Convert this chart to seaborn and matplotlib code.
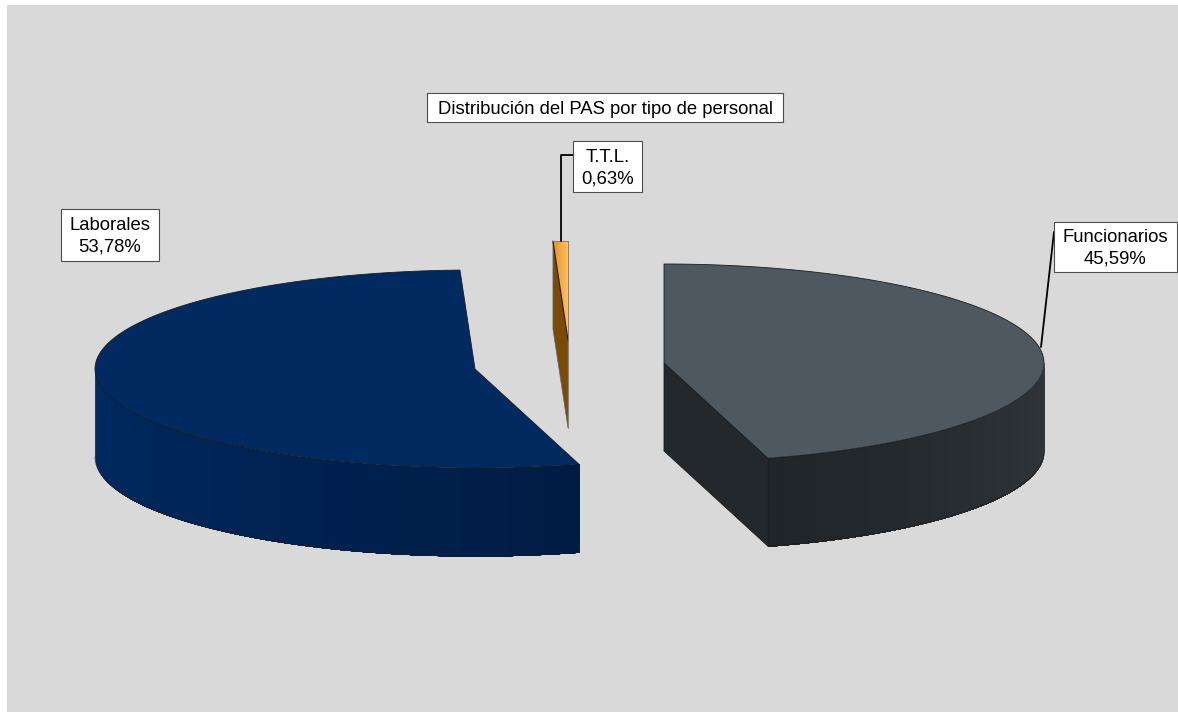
import numpy as np
import pandas as pd
import matplotlib
matplotlib.use('Agg')
import matplotlib.pyplot as plt
import seaborn as sns

sns.set_theme(style='white')
plt.rcParams['font.family'] = ['Liberation Sans', 'DejaVu Sans']

# values from the chart
categories = ['Funcionarios', 'Laborales', 'T.T.L.']
shares = [45.59, 53.78, 0.63]
share_labels = ['45,59%', '53,78%', '0,63%']
title = 'Distribución del PAS por tipo de personal'

df = pd.DataFrame({'cat': categories, 'share': shares, 'label': share_labels})
df['end'] = df['share'].cumsum() / df['share'].sum() * 360
df['start'] = df['end'].shift(1, fill_value=0)

# pie geometry in pixels, the slices are exploded
rx, ry, depth = 380, 99, 88
centers = {'Funcionarios': (664, 363), 'Laborales': (475, 369), 'T.T.L.': (568, 340)}
tops = {'Funcionarios': '#4d5860', 'Laborales': '#002a60'}
walls = {'Funcionarios': ('#30363a', '#1f2528'), 'Laborales': ('#002b63', '#001c44')}
edge = '#1c1c1c'


def rim(cx, cy, a0, a1, n=200):
    t = np.radians(np.linspace(a0, a1, n))
    return cx + rx * np.sin(t), cy - ry * np.cos(t)


fig = plt.figure(figsize=(11.78, 7.12), dpi=100, facecolor='white')
ax = fig.add_axes([0, 0, 1, 1])
ax.set_xlim(0, 1178)
ax.set_ylim(712, 0)
ax.axis('off')
ax.add_patch(plt.Rectangle((7, 5), 1171, 707, fc='#d9d9d9', ec='none', zorder=0))

for z, row in enumerate(df.sort_values('cat', ascending=False).itertuples(), 1):
    cx, cy = centers[row.cat]
    x, y = rim(cx, cy, row.start, row.end)

    if row.cat == 'T.T.L.':
        # thin slice, the cut face is what we see, top has a small gradient
        ax.fill([x[0], cx, cx, x[0]], [y[0], cy, cy + depth, y[0] + depth],
                fc='#7a4b06', ec='#666666', lw=0.5, zorder=z)
        xs = np.linspace(x[0], cx, 16)
        ys = y[0] + (cy - y[0]) * (xs - x[0]) / (cx - x[0])
        cols = sns.blend_palette(['#e8952a', '#fcc262'], len(xs) - 1)
        for i, c in enumerate(cols):
            ax.fill_between(xs[i:], y[0], ys[i:], color=c, lw=0, zorder=z + 0.1)
        ax.plot([x[0], cx], [y[0], cy], color='#2a1a05', lw=0.8, zorder=z + 0.2)
        ax.plot([x[0], cx, cx], [y[0], y[0], cy + depth], color='#777777', lw=0.6, zorder=z + 0.2)
        continue

    # cut wall facing us
    if row.cat == 'Funcionarios':
        ax.fill([cx, x[-1], x[-1], cx], [cy, y[-1], y[-1] + depth, cy + depth],
                fc='#22282b', ec=edge, lw=0.6, zorder=z)

    # outer wall, strips for the shading, each runs to the end so no seams
    a0, a1 = max(row.start, 90), min(row.end, 270)
    steps = np.linspace(a0, a1, 60)
    cols = sns.blend_palette(walls[row.cat], len(steps) - 1)
    if row.cat == 'Laborales':
        steps = steps[::-1]
    for s0, c in zip(steps[:-1], cols):
        xs, ys = rim(cx, cy, s0, steps[-1])
        ax.fill_between(xs, ys, ys + depth, color=c, lw=0, zorder=z)
    xs, ys = rim(cx, cy, a0, a1)
    ax.plot(xs, ys + depth, color=edge, lw=0.6, alpha=0.7, zorder=z + 0.1)
    ax.plot([xs[0]] * 2, [ys[0], ys[0] + depth], color=edge, lw=0.4, zorder=z + 0.1)
    ax.plot([xs[-1]] * 2, [ys[-1], ys[-1] + depth], color=edge, lw=0.4, zorder=z + 0.1)

    # top face
    ax.fill(np.r_[cx, x], np.r_[cy, y], fc=tops[row.cat], ec=edge, lw=0.6, zorder=z + 0.2)

# leader lines
ax.plot([573, 561, 561], [155, 155, 241], color='black', lw=1.3, zorder=6)
ax.plot([1054, 1041], [232, 347], color='black', lw=1.3, zorder=6)

# label boxes
boxes = {'Funcionarios': (1054, 222, 123, 50), 'Laborales': (61, 209, 98, 52), 'T.T.L.': (573, 141, 69, 51)}
for row in df.itertuples():
    bx, by, bw, bh = boxes[row.cat]
    ax.add_patch(plt.Rectangle((bx, by), bw, bh, fc='white', ec='#4d4d4d', lw=0.8, zorder=7))
    ax.text(bx + bw / 2, by + bh / 2 + 1.5, f'{row.cat}\n{row.label}', ha='center', va='center',
            fontsize=13.35, color='black', linespacing=1.36, zorder=8)

ax.add_patch(plt.Rectangle((427, 93), 356, 29, fc='white', ec='#4d4d4d', lw=0.8, zorder=7))
ax.text(605, 109, title, ha='center', va='center', fontsize=13.35, color='black', zorder=8)

fig.savefig('out.png', dpi=100)
